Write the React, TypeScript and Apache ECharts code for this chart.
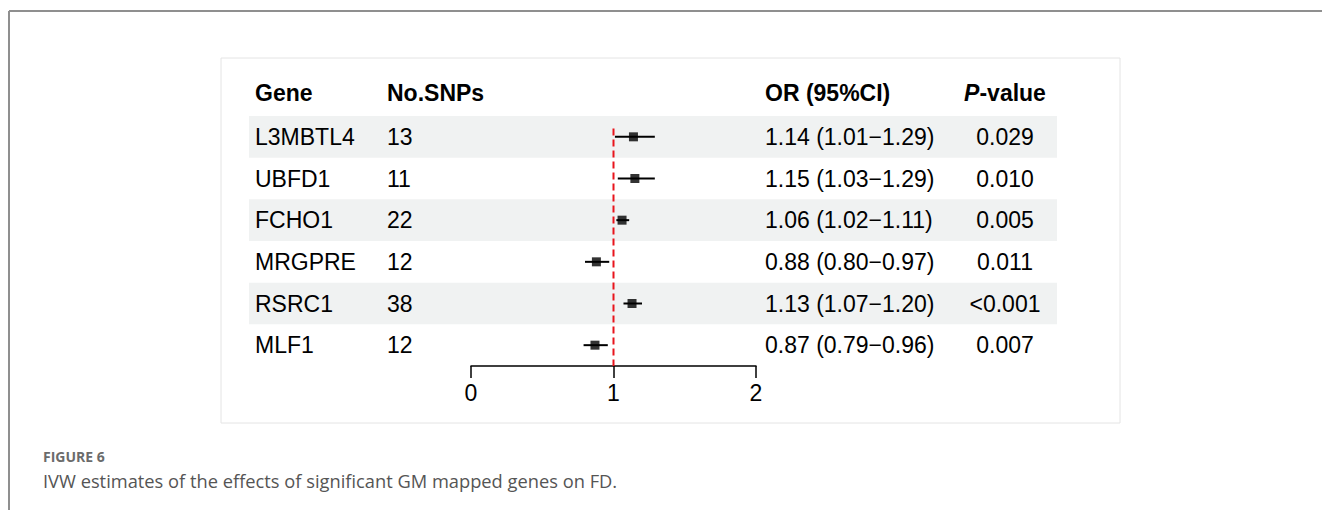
import React, { useEffect, useRef } from "react";
import * as echarts from "echarts";

const genes = ["L3MBTL4", "UBFD1", "FCHO1", "MRGPRE", "RSRC1", "MLF1"];
const snps = ["13", "11", "22", "12", "38", "12"];
const orValues = [1.14, 1.15, 1.06, 0.88, 1.13, 0.87];
const ciLower = [1.01, 1.03, 1.02, 0.8, 1.07, 0.79];
const ciUpper = [1.29, 1.29, 1.11, 0.97, 1.2, 0.96];
const pValues = ["0.029", "0.010", "0.005", "0.011", "<0.001", "0.007"];
const headers = ["Gene", "No.SNPs", "OR (95%CI)", "P-value"];
const xTicks = [0, 1, 2];
const refValue = 1;

const FONT = "'Liberation Sans', Arial, Helvetica, sans-serif";
const FS = 23;
const COL_GENE = 255;
const COL_SNP = 387;
const COL_OR = 765;
const COL_P = 1005;
const BAND_X0 = 249;
const BAND_X1 = 1057;

const fmt = (v: number) => v.toFixed(2);

export default function App() {
  const ref = useRef<HTMLDivElement>(null);
  useEffect(() => {
    if (!ref.current) return;
    const chart = echarts.init(ref.current, undefined, { renderer: "svg" });
    const rows = genes.map((g, i) => i);
    const textStyle = (text: string, x: number, y: number, align: string, bold = false) => ({
      type: "text",
      x,
      y,
      style: {
        text,
        fontSize: FS,
        fontFamily: FONT,
        fontWeight: bold ? "bold" : "normal",
        fill: "#000",
        align,
        verticalAlign: "middle",
      },
    });
    const option: any = {
      animation: false,
      backgroundColor: "#fff",
      grid: { left: 471, top: 116, width: 285, height: 250, containLabel: false },
      xAxis: {
        type: "value",
        min: 0,
        max: 2,
        interval: 1,
        axisLine: { show: true, onZero: false, lineStyle: { color: "#000", width: 1.5 } },
        axisTick: { show: true, inside: false, length: 12, lineStyle: { color: "#000", width: 1.5 } },
        axisLabel: {
          color: "#000",
          fontSize: FS,
          fontFamily: FONT,
          margin: 15,
          formatter: (v: number) => (xTicks.includes(v) ? String(v) : ""),
        },
        splitLine: { show: false },
      },
      yAxis: {
        type: "value",
        min: -0.5,
        max: 5.5,
        inverse: true,
        show: false,
      },
      graphic: [
        {
          type: "line",
          z: 0,
          shape: { x1: 9, y1: 11, x2: 1322, y2: 11 },
          style: { stroke: "#8f8f8f", lineWidth: 2 },
        },
        {
          type: "line",
          z: 0,
          shape: { x1: 9, y1: 11, x2: 9, y2: 510 },
          style: { stroke: "#8f8f8f", lineWidth: 2 },
        },
        {
          type: "rect",
          z: 0,
          shape: { x: 221, y: 58, width: 899, height: 365 },
          style: { fill: "#fff", stroke: "#e4e4e4", lineWidth: 1 },
        },
        {
          type: "text",
          z: 1,
          x: 43,
          y: 456,
          style: {
            text: "FIGURE 6",
            fontSize: 14,
            fontWeight: "bold",
            fontFamily: "'Open Sans', sans-serif",
            fill: "#6b6b6b",
            verticalAlign: "middle",
          },
        },
        {
          type: "text",
          z: 1,
          x: 43,
          y: 480,
          style: {
            text: "IVW estimates of the effects of significant GM mapped genes on FD.",
            fontSize: 18.3,
            fontFamily: "'Open Sans', sans-serif",
            fill: "#555",
            verticalAlign: "middle",
          },
        },
      ],
      series: [
        {
          type: "custom",
          name: "table",
          z: 1,
          clip: false,
          data: rows.map((i) => [i]),
          renderItem: (params: any, api: any) => {
            const i = api.value(0);
            const y = api.coord([0, i])[1];
            const h = api.size([0, 1])[1];
            const children: any[] = [];
            if (i % 2 === 0) {
              children.push({
                type: "rect",
                shape: { x: BAND_X0, y: y - h / 2, width: BAND_X1 - BAND_X0, height: h },
                style: { fill: "#f0f2f2" },
                z2: 0,
              });
            }
            children.push(textStyle(genes[i], COL_GENE, y, "left"));
            children.push(textStyle(snps[i], COL_SNP, y, "left"));
            children.push(
              textStyle(`${fmt(orValues[i])} (${fmt(ciLower[i])}\u2212${fmt(ciUpper[i])})`, COL_OR, y, "left")
            );
            children.push(textStyle(pValues[i], COL_P, y, "center"));
            return { type: "group", children };
          },
        },
        {
          type: "custom",
          name: "header",
          z: 1,
          clip: false,
          data: [[-1.05]],
          renderItem: (params: any, api: any) => {
            const y = api.coord([0, api.value(0)])[1];
            return {
              type: "group",
              children: [
                textStyle(headers[0], COL_GENE, y, "left", true),
                textStyle(headers[1], COL_SNP, y, "left", true),
                textStyle(headers[2], COL_OR, y, "left", true),
                {
                  type: "text",
                  x: COL_P,
                  y,
                  style: {
                    text: "{i|" + headers[3].slice(0, 1) + "}{b|" + headers[3].slice(1) + "}",
                    align: "center",
                    verticalAlign: "middle",
                    fontSize: FS,
                    fontFamily: FONT,
                    fontWeight: "bold",
                    fill: "#000",
                    rich: {
                      i: { fontSize: FS, fontFamily: FONT, fontWeight: "bold", fontStyle: "italic", fill: "#000" },
                      b: { fontSize: FS, fontFamily: FONT, fontWeight: "bold", fill: "#000" },
                    },
                  },
                },
              ],
            };
          },
        },
        {
          type: "line",
          name: "ref",
          z: 3,
          symbol: "none",
          data: [
            [refValue, -0.2],
            [refValue, 5.5],
          ],
          lineStyle: { color: "#e8141c", width: 2, type: [7, 4] },
        },
        {
          type: "custom",
          name: "ci",
          z: 4,
          data: rows.map((i) => [ciLower[i], ciUpper[i], i]),
          renderItem: (params: any, api: any) => {
            const p1 = api.coord([api.value(0), api.value(2)]);
            const p2 = api.coord([api.value(1), api.value(2)]);
            return {
              type: "line",
              shape: { x1: p1[0], y1: p1[1], x2: p2[0], y2: p2[1] },
              style: { stroke: "#000", lineWidth: 2 },
            };
          },
        },
        {
          type: "scatter",
          name: "or",
          z: 5,
          symbol: "rect",
          symbolSize: 9,
          itemStyle: { color: "#000" },
          data: rows.map((i) => [orValues[i], i]),
        },
      ],
    };
    chart.setOption(option);
    return () => chart.dispose();
  }, []);
  return (
    <div
      ref={ref}
      style={{ position: "absolute", left: 0, top: 0, width: 1322, height: 510 }}
    />
  );
}
